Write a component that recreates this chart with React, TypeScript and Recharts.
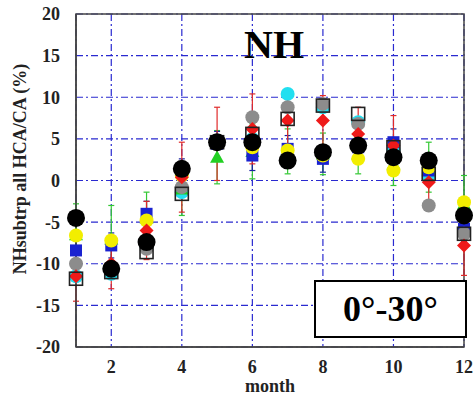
import React from 'react';
import {
  ScatterChart, Scatter, XAxis, YAxis, CartesianGrid, ErrorBar, ReferenceArea,
} from 'recharts';

// months and axis ticks
const months = [1, 2, 3, 4, 5, 6, 7, 8, 9, 10, 11, 12];
const xTicks = [2, 4, 6, 8, 10, 12];
const yTicks = [-20, -15, -10, -5, 0, 5, 10, 15, 20];

// series values (%)
const blackVals = [-4.5, -10.6, -7.4, 1.4, 4.6, 4.6, 2.4, 3.4, 4.2, 2.8, 2.4, -4.2];
const grayVals = [-10.0, -10.5, -8.2, -0.8, 4.8, 7.6, 8.8, 9.2, 6.8, 3.0, -3.0, -6.4];
const redVals = [-11.5, -10.0, -6.0, 0.4, 4.4, 6.2, 7.2, 7.2, 5.6, 4.2, -0.2, -7.8];
const redErr = [3.0, 3.0, 3.5, 4.2, 4.4, 4.2, 3.0, 3.0, 3.2, 3.6, 2.5, 3.6];
const yellowVals = [-6.6, -7.2, -4.8, 0.6, 4.4, 4.0, 3.6, 3.0, 2.6, 1.2, 1.6, -2.6];
const blueVals = [-8.4, -7.8, -4.0, 1.0, 4.4, 3.0, 3.8, 2.6, 4.0, 4.6, 1.2, -5.8];
const blueErr = [1.5, 1.5, 1.5, 1.6, 1.5, 1.8, 1.6, 1.6, 1.5, 1.6, 1.5, 1.5];
const openVals = [-11.8, -11.0, -8.6, -1.6, 4.6, 5.6, 7.4, 9.0, 8.0, 4.0, 0.8, -6.4];
const cyanVals = [-11.5, -11.2, -8.0, -1.4, 4.6, 5.0, 10.4, 8.8, 7.0, 3.6, 0.6, -6.2];
const greenVals = [-6.5, -7.0, -4.5, -1.0, 2.8, 3.5, 3.5, 3.2, 3.2, 2.0, 1.6, -2.8];
const greenErr = [3.7, 4.0, 3.1, 3.2, 3.2, 3.3, 2.7, 2.5, 2.4, 2.6, 3.0, 3.4];

const toData = (vals: number[], err?: number[]) =>
  months.map((m, i) => ({ x: m, y: vals[i], e: err ? err[i] : 0 }));

const serif = '"Liberation Serif", "Times New Roman", serif';
const tickStyle = { fontFamily: serif, fontWeight: 'bold', fontSize: 18, fill: '#222' };

const circle = (r: number, fill: string) => (p: any) =>
  <circle cx={p.cx} cy={p.cy} r={r} fill={fill} />;
const square = (s: number, fill: string, stroke = 'none') => (p: any) =>
  <rect x={p.cx - s / 2} y={p.cy - s / 2} width={s} height={s} fill={fill} stroke={stroke} strokeWidth={1.6} />;
const diamond = (s: number, fill: string) => (p: any) =>
  <polygon points={`${p.cx},${p.cy - s} ${p.cx + s},${p.cy} ${p.cx},${p.cy + s} ${p.cx - s},${p.cy}`} fill={fill} />;
const triangle = (s: number, fill: string) => (p: any) =>
  <polygon points={`${p.cx},${p.cy - s} ${p.cx + s},${p.cy + s * 0.8} ${p.cx - s},${p.cy + s * 0.8}`} fill={fill} />;

export default function App() {
  return (
    <div style={{ position: 'absolute', left: 0, top: 0, width: 473, height: 397, background: '#fff' }}>
      <ScatterChart width={473} height={397} margin={{ top: 14, right: 9, bottom: 0, left: 0 }}>
        <CartesianGrid stroke="#2a2ad0" strokeDasharray="7 3 2 3" strokeWidth={1.2} />
        <XAxis
          type="number" dataKey="x" domain={[1, 12]} ticks={xTicks} height={50}
          tickLine={false} tickMargin={7} axisLine={{ stroke: '#444', strokeWidth: 1.5 }}
          tick={tickStyle}
        />
        <YAxis
          type="number" dataKey="y" domain={[-20, 20]} ticks={yTicks} width={76}
          tickLine={false} tickMargin={10} axisLine={{ stroke: '#444', strokeWidth: 1.5 }}
          tick={tickStyle}
        />
        <ReferenceArea x1={1} x2={12} y1={-20} y2={20} fill="none" stroke="#444" strokeWidth={1.5} />
        <Scatter data={toData(cyanVals)} shape={circle(7, '#22dff0')} isAnimationActive={false} />
        <Scatter data={toData(greenVals, greenErr)} shape={triangle(7, '#22d022')} isAnimationActive={false}>
          <ErrorBar dataKey="e" direction="y" width={3} stroke="#33c833" strokeWidth={1.2} />
        </Scatter>
        <Scatter data={toData(blueVals, blueErr)} shape={square(12, '#1a22d0')} isAnimationActive={false}>
          <ErrorBar dataKey="e" direction="y" width={3} stroke="#1a22a0" strokeWidth={1.2} />
        </Scatter>
        <Scatter data={toData(yellowVals)} shape={circle(7, '#f2ee00')} isAnimationActive={false} />
        <Scatter data={toData(grayVals)} shape={circle(7, '#8c8c8c')} isAnimationActive={false} />
        <Scatter data={toData(redVals, redErr)} shape={diamond(7, '#ee1a1a')} isAnimationActive={false}>
          <ErrorBar dataKey="e" direction="y" width={3} stroke="#e02a2a" strokeWidth={1.2} />
        </Scatter>
        <Scatter data={toData(openVals)} shape={square(13, 'none', '#222')} isAnimationActive={false} />
        <Scatter data={toData(blackVals)} shape={circle(9, '#000')} isAnimationActive={false} />
      </ScatterChart>

      <div style={{
        position: 'absolute', left: 274, top: 25, transform: 'translateX(-50%)',
        fontFamily: serif, fontWeight: 'bold', fontSize: 40, lineHeight: 1, color: '#000',
      }}>NH</div>

      <div style={{
        position: 'absolute', left: 314, top: 280, width: 153, height: 58, boxSizing: 'border-box',
        border: '2px solid #000', background: '#fff', display: 'flex', alignItems: 'center',
        justifyContent: 'center', fontFamily: serif, fontWeight: 'bold', fontSize: 36, lineHeight: 1,
      }}>0°-30°</div>

      <div style={{
        position: 'absolute', left: 20, top: 169, transform: 'translate(-50%, -50%) rotate(-90deg)',
        whiteSpace: 'nowrap', fontFamily: serif, fontWeight: 'bold', fontSize: 18, lineHeight: 1, color: '#222',
      }}>NHsubtrp all HCA/CA (%)</div>

      <div style={{
        position: 'absolute', left: 270, top: 377, transform: 'translateX(-50%)',
        fontFamily: serif, fontWeight: 'bold', fontSize: 18, lineHeight: 1, color: '#222',
      }}>month</div>
    </div>
  );
}
